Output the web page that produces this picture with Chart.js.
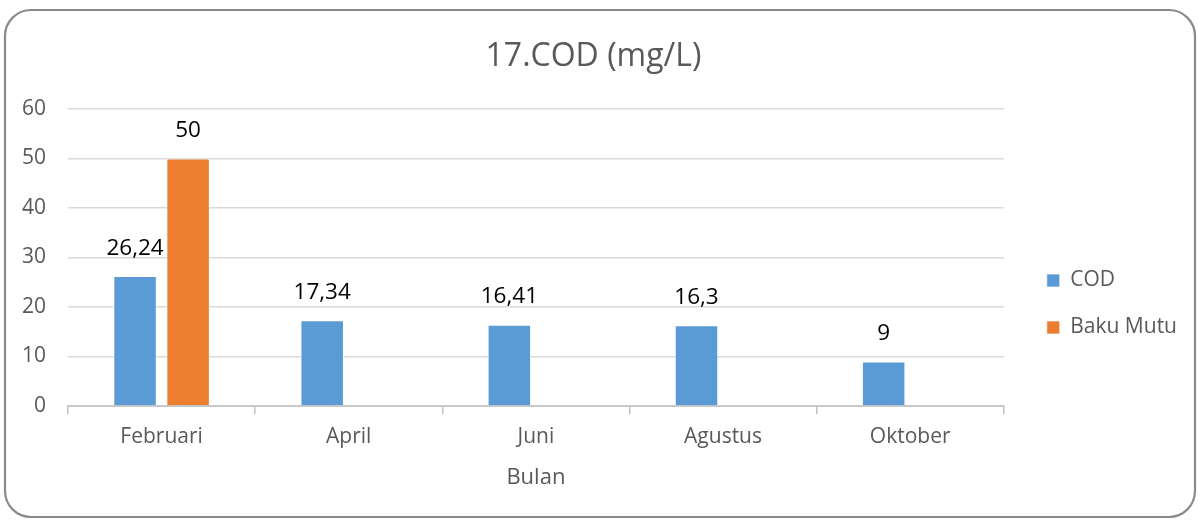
<!DOCTYPE html>
<html>
<head>
<meta charset="utf-8">
<script src="https://cdn.jsdelivr.net/npm/chart.js@4/dist/chart.umd.min.js"></script>
<style>
  html, body { margin: 0; padding: 0; background: #fff; }
  #wrap { position: relative; width: 1198px; height: 520px; }
</style>
</head>
<body>
<div id="wrap"><canvas id="c" width="1198" height="520"></canvas></div>
<script>
const categories = ['Februari', 'April', 'Juni', 'Agustus', 'Oktober'];
const codValues = [26.24, 17.34, 16.41, 16.3, 9];
const bakuMutuValues = [50, null, null, null, null];
const yTicks = [0, 10, 20, 30, 40, 50, 60];
const chartTitle = '17.COD (mg/L)';
const xTitle = 'Bulan';

const FONT = '"Open Sans", Carlito, Calibri, sans-serif';
const GRAY = '#595959';

const frame = {
  id: 'frame',
  afterDraw(chart) {
    const ctx = chart.ctx;
    ctx.save();
    ctx.strokeStyle = '#8a8a8a';
    ctx.lineWidth = 2.2;
    ctx.beginPath();
    ctx.roundRect(5, 10, 1190, 507, 26);
    ctx.stroke();
    ctx.restore();
  }
};

const valueLabels = {
  id: 'valueLabels',
  afterDatasetsDraw(chart) {
    const ctx = chart.ctx;
    ctx.save();
    ctx.font = '22.5px ' + FONT;
    ctx.fillStyle = '#000';
    ctx.textAlign = 'center';
    ctx.textBaseline = 'middle';
    chart.data.datasets.forEach((ds, i) => {
      const meta = chart.getDatasetMeta(i);
      meta.data.forEach((el, j) => {
        const v = ds.data[j];
        if (v === null || v === undefined) return;
        ctx.fillText(String(v).replace('.', ','), el.x, el.y - 28);
      });
    });
    ctx.restore();
  }
};

new Chart(document.getElementById('c'), {
  type: 'bar',
  data: {
    labels: categories,
    datasets: [
      { label: 'COD', data: codValues, backgroundColor: '#5b9bd5', borderColor: 'rgba(255,255,255,0.7)', borderWidth: 1 },
      { label: 'Baku Mutu', data: bakuMutuValues, backgroundColor: '#ed7d31', borderColor: 'rgba(255,255,255,0.7)', borderWidth: 1 }
    ]
  },
  options: {
    responsive: false,
    animation: false,
    devicePixelRatio: 1,
    layout: { padding: { left: 0, right: 11, top: 0, bottom: 0 } },
    categoryPercentage: 0.567,
    barPercentage: 0.82,
    plugins: {
      title: {
        display: true,
        text: chartTitle,
        color: GRAY,
        font: { family: FONT, size: 32, weight: 'normal', lineHeight: 1.2 },
        padding: { top: 38, bottom: 32.6 }
      },
      legend: {
        display: true,
        position: 'right',
        align: 'center',
        title: { display: true, text: ' ', padding: { top: 32, bottom: 32 }, font: { size: 20 } },
        labels: {
          color: GRAY,
          font: { family: FONT, size: 21 },
          boxWidth: 13,
          boxHeight: 13,
          padding: 26
        }
      },
      tooltip: { enabled: false }
    },
    scales: {
      x: {
        grid: { display: true, offset: true, drawOnChartArea: false, drawTicks: true, tickLength: 8, color: '#bfbfbf', lineWidth: 1.5 },
        border: { display: true, color: '#c8c8c8', width: 2 },
        ticks: { color: GRAY, font: { family: FONT, size: 21 }, padding: 10 },
        title: { display: true, text: xTitle, color: GRAY, font: { family: FONT, size: 22 }, padding: { top: 0, bottom: 29 } },
        afterFit(s) { s.height = 114; }
      },
      y: {
        min: 0, max: 60,
        afterBuildTicks(s) { s.ticks = yTicks.map(v => ({ value: v })); },
        grid: { color: '#d9d9d9', lineWidth: 1.5, drawTicks: false },
        border: { display: false },
        ticks: { color: GRAY, font: { family: FONT, size: 21 }, padding: 22 },
        afterFit(s) { s.width = 68; }
      },
      pad: {
        type: 'linear',
        position: 'right',
        display: true,
        grid: { display: false },
        border: { display: false },
        ticks: { display: false },
        afterFit(s) { s.width = 17; }
      }
    }
  },
  plugins: [valueLabels, frame]
});
</script>
</body>
</html>
